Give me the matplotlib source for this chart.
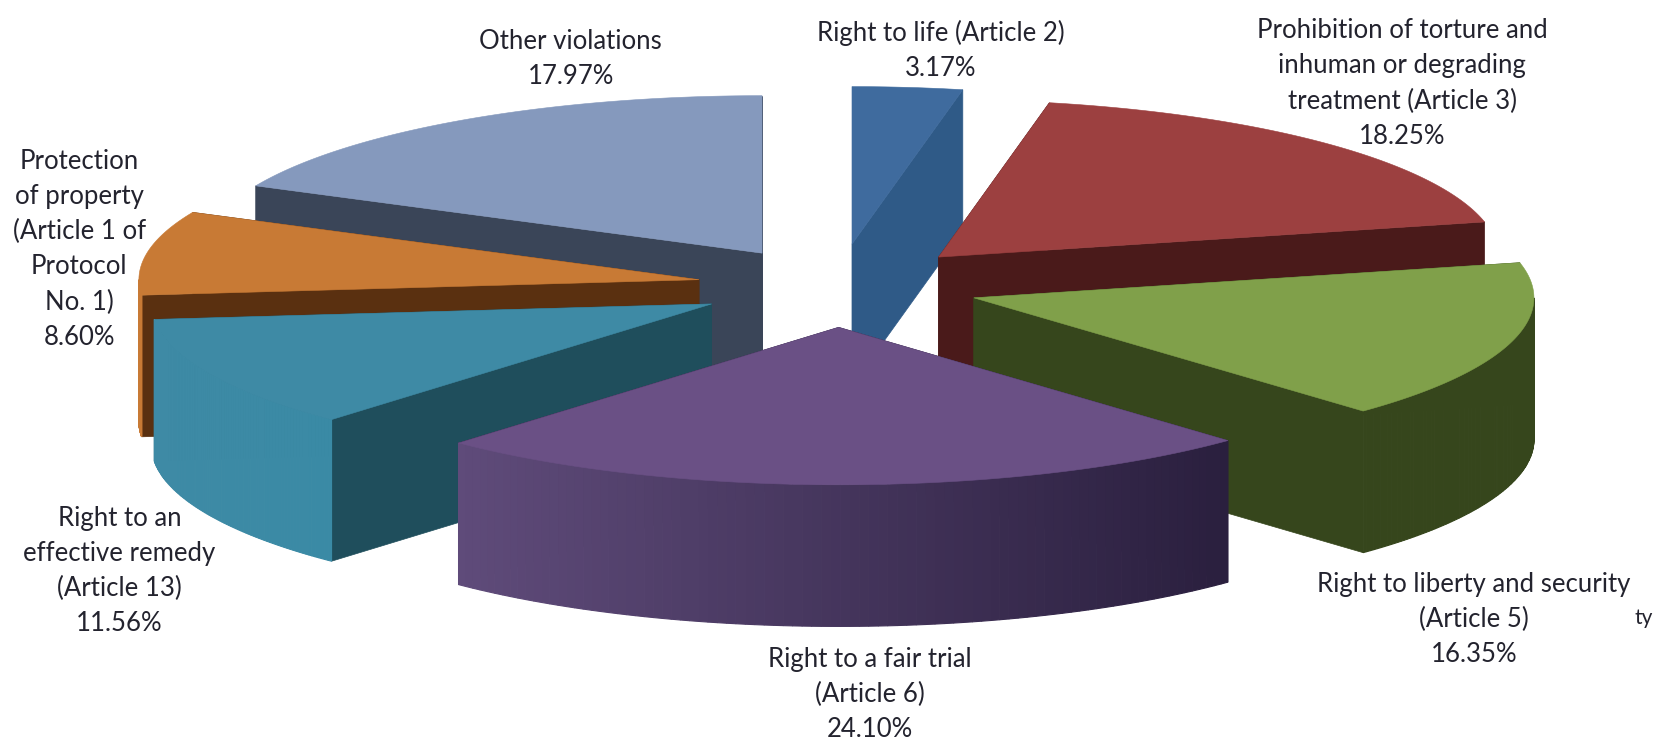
import numpy as np
import matplotlib
matplotlib.use("Agg")
import matplotlib.pyplot as plt
from matplotlib.colors import to_rgb

# ---- data (clockwise from 12 o'clock) ----
slices = ["Right to life", "Torture", "Liberty", "Fair trial", "Remedy", "Property", "Other"]
values = [3.17, 18.25, 16.35, 24.10, 11.56, 8.60, 17.97]
explode = [0.27, 0.26, 0.255, 0.26, 0.25, 0.25, 0.25]
top_colors = ["#3f6b9e", "#9c4040", "#80a04a", "#6a5085", "#3e8aa5", "#c87a35", "#8599bd"]
wall_colors = ["#2f5a87", "#4a1a1a", "#36461c", "#2b2040", "#1f4e5c", "#5a3010", "#3a4558"]
outer_left = ["#2f5a87", "#4a1a1a", "#36461c", "#5f4b7a", "#3e8aa5", "#c87a35", "#3a4558"]
outer_right = ["#2f5a87", "#4a1a1a", "#36461c", "#2a1f3e", "#3a8aa5", "#c87a35", "#3a4558"]
label_names = [
    "Right to life (Article 2)",
    "Prohibition of torture and\ninhuman or degrading\ntreatment (Article 3)",
    "Right to liberty and security\n(Article 5)",
    "Right to a fair trial\n(Article 6)",
    "Right to an\neffective remedy\n(Article 13)",
    "Protection\nof property\n(Article 1 of\nProtocol\nNo. 1)",
    "Other violations",
]
label_pos = [(890, 48), (1327, 79), (1395, 586), (823, 657), (113, 540), (75, 236), (540, 56)]

# ---- layout (canvas units) ----
W, H = 1568, 704
CX, CY = 792, 271
RX, RY = 530, 149
DEPTH = 134
DRAW_ORDER = [0, 6, 1, 5, 2, 4, 3]

plt.rcParams["font.family"] = ["Lato", "DejaVu Sans"]
fig = plt.figure(figsize=(16.57, 7.44), dpi=100)
ax = fig.add_axes([0, 0, 1, 1])
ax.set_xlim(0, W)
ax.set_ylim(H, 0)
ax.axis("off")


def rim(ax0, ay0, angles):
    return ax0 + RX * np.sin(angles), ay0 - RY * np.cos(angles)


edges = np.radians(np.concatenate([[0], np.cumsum(values)]) * 360 / sum(values))
z = 1
for i in DRAW_ORDER:
    a0, a1 = edges[i], edges[i + 1]
    mid = (a0 + a1) / 2
    px, py = rim(CX, CY, np.array(mid))
    ox = CX + explode[i] * (px - CX)
    oy = CY + explode[i] * (py - CY)

    # radial walls, the one further forward drawn last
    walls = sorted([a0, a1], key=lambda a: -np.cos(a))
    for a in walls:
        ex, ey = rim(ox, oy, np.array(a))
        ax.fill([ox, ex, ex, ox], [oy, ey, ey + DEPTH, oy + DEPTH],
                color=wall_colors[i], lw=0.5, zorder=z)
        z += 1

    # outer wall, only the part facing the viewer
    lo, hi = max(a0, np.pi / 2), min(a1, 3 * np.pi / 2)
    if hi > lo:
        seg = np.linspace(lo, hi, 90)
        sx, sy = rim(ox, oy, seg)
        c_l, c_r = np.array(to_rgb(outer_left[i])), np.array(to_rgb(outer_right[i]))
        xmin, xmax = sx.min(), sx.max()
        for k in range(len(seg) - 1):
            t = ((sx[k] + sx[k + 1]) / 2 - xmin) / (xmax - xmin)
            col = c_l + (c_r - c_l) * t
            ax.fill([sx[k], sx[k + 1], sx[k + 1], sx[k]],
                    [sy[k], sy[k + 1], sy[k + 1] + DEPTH, sy[k] + DEPTH],
                    facecolor=col, edgecolor=col, lw=0.8, zorder=z)
        z += 1

    # top face
    arc = np.linspace(a0, a1, 120)
    tx, ty = rim(ox, oy, arc)
    ax.fill(np.r_[ox, tx], np.r_[oy, ty], color=top_colors[i], lw=0.4, zorder=z)
    z += 1

TEXT = "#23232e"
for name, v, (x, y) in zip(label_names, values, label_pos):
    ax.text(x, y, f"{name}\n{v:.2f}%", ha="center", va="center", ma="center",
            fontsize=18.5, color=TEXT, linespacing=1.5, zorder=z)
ax.text(1555, 585, "ty", ha="center", va="center", fontsize=15, color=TEXT, zorder=z)

fig.savefig("out.png", dpi=100, facecolor="white")
